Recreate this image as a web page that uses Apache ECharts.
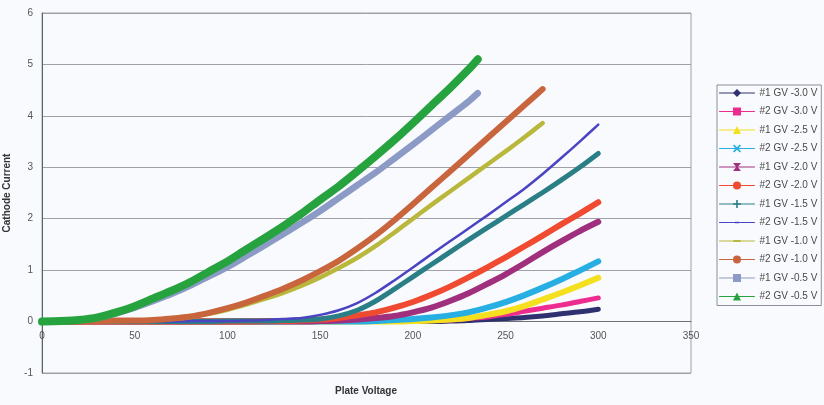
<!DOCTYPE html>
<html>
<head>
<meta charset="utf-8">
<script src="https://cdn.jsdelivr.net/npm/echarts@6/dist/echarts.min.js"></script>
<style>
html,body{margin:0;padding:0;background:#f9fafd;}
#chart{width:824px;height:405px;}
</style>
</head>
<body>
<div id="chart"></div>
<script>
// ---- Data ----
const volts300 = [0,10,20,30,40,50,60,70,80,90,100,110,120,130,140,150,160,170,180,190,200,210,220,230,240,250,260,270,280,290,300];
const volts270 = [0,10,20,30,40,50,60,70,80,90,100,110,120,130,140,150,160,170,180,190,200,210,220,230,240,250,260,270];
const volts235 = [0,10,20,30,40,50,60,70,80,90,100,110,120,130,140,150,160,170,180,190,200,210,220,230,235];

const seriesNames = ['#1 GV -3.0 V','#2 GV -3.0 V','#1 GV -2.5 V','#2 GV -2.5 V','#1 GV -2.0 V','#2 GV -2.0 V',
                     '#1 GV -1.5 V','#2 GV -1.5 V','#1 GV -1.0 V','#2 GV -1.0 V','#1 GV -0.5 V','#2 GV -0.5 V'];

const tube1_m30 = [0,0,0,0,0,0,0,0,0,0,0,0,0,0,0,0,0,0,0,0,0,0,0.01,0.02,0.04,0.06,0.08,0.11,0.15,0.19,0.24];
const tube2_m30 = [0,0,0,0,0,0,0,0,0,0,0,0,0,0,0,0,0,0,0,0,0.01,0.02,0.03,0.06,0.09,0.14,0.2,0.26,0.32,0.39,0.46];
const tube1_m25 = [0,0,0,0,0,0,0,0,0,0,0,0,0,0,0,0,0,0,0,0,0.01,0.02,0.04,0.07,0.13,0.2,0.3,0.43,0.56,0.7,0.85];
const tube2_m25 = [0,0,0,0,0,0,0,0,0,0,0,0,0,0,0,0,0,0,0.01,0.03,0.05,0.08,0.12,0.18,0.27,0.38,0.51,0.66,0.82,0.99,1.17];
const tube1_m20 = [0,0,0,0,0,0,0,0,0,0,0,0,0,0,0,0.01,0.02,0.04,0.07,0.11,0.18,0.27,0.4,0.55,0.73,0.92,1.13,1.35,1.56,1.76,1.94];
const tube2_m20 = [0,0,0,0,0,0,0,0,0,0,0,0,0.01,0.01,0.02,0.04,0.07,0.12,0.18,0.27,0.38,0.52,0.68,0.86,1.05,1.25,1.46,1.67,1.89,2.1,2.32];
const tube1_m15 = [0,0,0,0,0,0,0,0,0,0,0.01,0.01,0.01,0.02,0.03,0.05,0.11,0.22,0.4,0.63,0.87,1.11,1.35,1.59,1.82,2.05,2.28,2.51,2.75,3.0,3.27];
const tube2_m15 = [0,0,0,0,0,0,0,0,0.01,0.01,0.01,0.02,0.03,0.05,0.07,0.13,0.22,0.36,0.56,0.8,1.05,1.31,1.56,1.81,2.06,2.32,2.58,2.87,3.18,3.5,3.83];
const tube1_m10 = [0,0,0,0.01,0.01,0.02,0.03,0.05,0.09,0.15,0.23,0.33,0.44,0.56,0.7,0.86,1.04,1.24,1.47,1.73,2.0,2.27,2.53,2.79,3.05,3.31,3.58,3.86];
const tube2_m10 = [0,0,0.01,0.01,0.02,0.02,0.03,0.06,0.1,0.17,0.26,0.37,0.5,0.64,0.8,0.98,1.18,1.42,1.68,1.97,2.28,2.6,2.92,3.24,3.56,3.88,4.2,4.52];
const tube1_m05 = [0,0.01,0.03,0.07,0.16,0.27,0.4,0.54,0.7,0.88,1.06,1.27,1.48,1.7,1.92,2.15,2.4,2.65,2.9,3.17,3.44,3.72,4.0,4.28,4.44];
const tube2_m05 = [0,0.01,0.03,0.08,0.18,0.3,0.45,0.6,0.77,0.97,1.17,1.4,1.62,1.85,2.1,2.37,2.63,2.92,3.22,3.53,3.86,4.2,4.54,4.9,5.1];

const xTicks = [0,50,100,150,200,250,300,350];
const yTicks = [-1,0,1,2,3,4,5,6];
const xTitle = 'Plate Voltage';
const yTitle = 'Cathode Current';

// ---- Styles ----
const volts = [volts300,volts300,volts300,volts300,volts300,volts300,volts300,volts300,volts270,volts270,volts235,volts235];
const values = [tube1_m30,tube2_m30,tube1_m25,tube2_m25,tube1_m20,tube2_m20,tube1_m15,tube2_m15,tube1_m10,tube2_m10,tube1_m05,tube2_m05];
const colors = ['#2f3070','#ec2d8f','#f4e01e','#27aee3','#a0307e','#f04b31','#2a7f86','#4a43c2','#b9b83c','#c9653d','#8b9bc6','#26a33f'];
const widths = [5,5,6,6,6,6,5,2.5,4.5,6,6.5,8];
const XPATH = 'path://M0,1.5 L1.5,0 L5,3.5 L8.5,0 L10,1.5 L6.5,5 L10,8.5 L8.5,10 L5,6.5 L1.5,10 L0,8.5 L3.5,5 Z';
const BOWTIE = 'path://M0,0 H10 L6,5 L10,10 H0 L4,5 Z';
const PLUS = 'path://M4,0 H6 V4 H10 V6 H6 V10 H4 V6 H0 V4 H4 Z';
const SDASH = 'path://M0,0 L0.01,0 L0,0.01 Z M10,10 L9.99,10 L10,9.99 Z M2.5,4 H7.5 V6 H2.5 Z';
const LDASH = 'path://M0,0 L0.01,0 L0,0.01 Z M10,10 L9.99,10 L10,9.99 Z M0.5,3.8 H9.5 V6.2 H0.5 Z';
const symbols = ['diamond','rect','triangle',XPATH,BOWTIE,'circle',PLUS,SDASH,LDASH,'circle','rect','triangle'];

const series = seriesNames.map((name, i) => ({
  name: name,
  type: 'line',
  data: volts[i].map((v, j) => [v, values[i][j]]),
  showSymbol: false,
  symbol: symbols[i],
  smooth: 0.25,
  lineStyle: { color: colors[i], width: widths[i], cap: 'round', join: 'round' },
  itemStyle: { color: colors[i] },
  emphasis: { disabled: true },
  animation: false
}));

const FONT = 'Liberation Sans, Arial, sans-serif';
const chart = echarts.init(document.getElementById('chart'), null, { renderer: 'canvas' });
chart.setOption({
  backgroundColor: '#f9fafd',
  animation: false,
  grid: {
    left: 42, right: 133, top: 13, bottom: 32,
    show: true, borderColor: '#a0a0a8', borderWidth: 1,
    containLabel: false, outerBoundsMode: 'none'
  },
  legend: {
    orient: 'vertical',
    left: 717, top: 85,
    padding: [3, 4, 4, 2],
    borderColor: '#8a8f9a', borderWidth: 1,
    itemWidth: 35, itemHeight: 10, itemGap: 8.5,
    lineStyle: { width: 1 },
    textStyle: { fontFamily: FONT, fontSize: 10, color: '#4a4a4a', lineHeight: 10 },
    data: seriesNames,
    selectedMode: false
  },
  graphic: [{
    type: 'text', x: 366, y: 391,
    style: { text: xTitle, align: 'center', verticalAlign: 'middle', fontFamily: FONT, fontSize: 10, fontWeight: 'bold', fill: '#333' }
  }],
  xAxis: {
    type: 'value', min: 0, max: 350, interval: 50,
    offset: -51.4,
    axisLine: { onZero: false, lineStyle: { color: '#707070', width: 1 } },
    axisTick: { show: false },
    axisLabel: { margin: 10, fontFamily: FONT, fontSize: 10, color: '#555',
      customValues: xTicks, formatter: v => String(v) },
    splitLine: { show: false }
  },
  yAxis: {
    type: 'value', min: -1, max: 6, interval: 1,
    name: yTitle, nameLocation: 'middle', nameGap: 30, nameRotate: 90,
    nameTextStyle: { fontFamily: FONT, fontSize: 10, fontWeight: 'bold', color: '#333' },
    axisLine: { show: true, lineStyle: { color: '#55666a', width: 1 } },
    axisTick: { show: false },
    axisLabel: { margin: 9, fontFamily: FONT, fontSize: 10, color: '#555',
      customValues: yTicks, formatter: v => String(v) },
    splitLine: { show: true, lineStyle: { color: '#a0a0a8', width: 1 } }
  },
  series: series
});
</script>
</body>
</html>
